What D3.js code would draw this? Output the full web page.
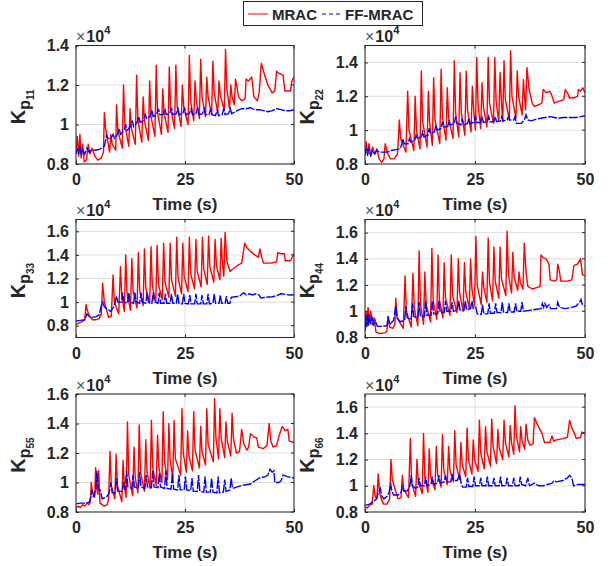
<!DOCTYPE html>
<html>
<head>
<meta charset="utf-8">
<script src="https://cdn.jsdelivr.net/npm/d3@7"></script>
<style>
  body { margin: 0; background: #fff; }
  svg text { font-family: "Liberation Sans", Arial, Helvetica, sans-serif; fill: #262626; }
</style>
</head>
<body>
<div id="chart"></div>
<script>
// values are in units of 1e4, [time (s), gain]
const seriesNames = ["MRAC", "FF-MRAC"];
const timeTicks = [0, 25, 50];

const kp11Mrac = [[0,0.87],[0.3,0.94],[0.6,0.84],[0.9,0.95],[1.2,0.83],[1.5,0.9],[1.9,0.81],[2.4,0.82],[2.8,0.9],[3.2,0.85],[3.7,0.88],[4.3,0.84],[5.0,0.82],[5.8,0.83],[6.3,0.86],
  [6.5,1.06],[6.8,0.98],[7.7,0.86],[8.0,0.95],[8.3,0.9],[9.1,0.87],[9.3,1.10],[9.6,0.97],[10.6,0.88],[10.9,1.20],[11.2,1.0],[12.1,0.89],
  [12.4,1.08],[12.7,0.98],[13.6,0.9],[13.9,1.25],[14.2,1.02],[15.1,0.91],[15.4,1.14],[15.7,1.02],[16.6,0.92],[16.9,1.22],[17.2,1.04],[18.1,0.94],
  [18.4,1.30],[18.7,1.06],[19.6,0.95],[19.9,1.18],[20.2,1.06],[21.1,0.96],[21.4,1.29],[21.7,1.08],[22.6,0.98],[22.9,1.30],[23.2,1.09],[24.1,0.99],
  [24.4,1.20],[24.7,1.09],[25.7,1.0],[26.0,1.35],[26.3,1.12],[27.0,1.02],[27.3,1.22],[27.6,1.12],[28.3,1.03],[28.6,1.33],[28.9,1.14],[29.7,1.04],
  [30.0,1.24],[30.3,1.14],[31.1,1.05],[31.4,1.32],[31.7,1.16],[32.5,1.06],[32.8,1.22],[33.1,1.15],[34.0,1.07],[34.3,1.38],[34.6,1.18],[35.2,1.08],
  [35.5,1.20],[35.8,1.14],[36.3,1.1],[36.6,1.23],[37.3,1.14],[38.0,1.12],[38.8,1.13],[39.0,1.23],[39.6,1.22],[40.3,1.24],[40.8,1.14],[41.6,1.12],
  [42.0,1.16],[42.5,1.31],[43.0,1.27],[44.0,1.2],[45.0,1.16],[45.6,1.17],[46.0,1.27],[46.5,1.26],[47.5,1.25],[47.9,1.17],[49.2,1.17],[49.5,1.22],[50,1.24]];
const kp11FfMrac = [[0,0.85],[0.3,0.88],[0.6,0.85],[0.9,0.89],[1.2,0.85],[1.6,0.87],[2.0,0.85],[2.5,0.88],[3.0,0.86],[3.5,0.87],[4.5,0.87],[5.5,0.875],
  [6.5,0.89],[6.8,0.92],[7.0,0.95],[7.3,0.93],[8.0,0.93],[8.5,0.95],[8.8,0.93],[9.5,0.95],[9.9,0.98],[10.2,0.95],[11.0,0.97],[11.4,1.0],[11.7,0.97],
  [12.5,0.99],[12.9,1.02],[13.2,0.99],[14.0,1.01],[14.4,1.04],[14.7,1.01],[15.5,1.02],[15.9,1.05],[16.2,1.03],[17.0,1.04],[17.4,1.075],[17.7,1.04],
  [18.5,1.05],[18.9,1.08],[19.2,1.05],[20.0,1.05],[20.4,1.08],[20.7,1.05],[21.5,1.055],[21.9,1.085],[22.2,1.05],[23.0,1.055],[23.4,1.08],[23.7,1.05],
  [24.5,1.055],[24.9,1.085],[25.2,1.05],[26.0,1.055],[26.4,1.08],[26.7,1.05],[27.5,1.055],[27.9,1.085],[28.2,1.05],[29.0,1.055],[29.4,1.08],[29.7,1.05],
  [30.5,1.05],[30.9,1.08],[31.2,1.05],[32.0,1.045],[32.4,1.075],[32.7,1.045],[33.5,1.05],[33.9,1.08],[34.2,1.05],[35.0,1.055],[35.4,1.08],[35.7,1.055],
  [37.0,1.07],[38.0,1.08],[39.0,1.08],[40.0,1.085],[41.0,1.075],[42.0,1.075],[43.0,1.07],[44.0,1.065],[45.0,1.07],[46.0,1.08],[47.0,1.075],[48.0,1.07],[49.0,1.07],[50.0,1.075]];

const kp22Mrac = [[0,0.86],[0.3,0.93],[0.6,0.85],[0.9,0.92],[1.3,0.85],[1.7,0.9],[2.2,0.86],[2.7,0.89],[3.2,0.83],[3.8,0.81],[4.3,0.83],[4.6,0.92],[5.0,0.87],[5.8,0.83],[6.6,0.83],[7.4,0.86],
  [7.8,1.06],[8.1,0.95],[9.3,0.87],[9.7,1.23],[10.0,1.0],[11.1,0.88],[11.4,1.2],[11.7,1.0],[12.5,0.89],[12.8,1.35],[13.1,1.05],[14.1,0.9],
  [14.4,1.23],[14.7,1.04],[15.3,0.91],[15.6,1.31],[15.9,1.06],[17.0,0.92],[17.3,1.36],[17.6,1.08],[18.4,0.94],[18.7,1.25],[19.0,1.07],[20.0,0.95],
  [20.3,1.41],[20.6,1.1],[21.3,0.96],[21.6,1.34],[21.9,1.1],[22.7,0.97],[23.0,1.35],[23.3,1.12],[24.1,0.99],[24.4,1.26],[24.7,1.12],[25.1,1.0],
  [25.4,1.43],[25.7,1.15],[26.3,1.01],[26.6,1.28],[26.9,1.14],[27.7,1.02],[28.0,1.43],[28.3,1.16],[29.2,1.04],[29.5,1.43],[29.8,1.17],[30.4,1.05],
  [30.7,1.34],[31.0,1.17],[31.3,1.05],[31.6,1.41],[31.9,1.18],[32.8,1.06],[33.1,1.47],[33.4,1.2],[34.3,1.07],[34.6,1.35],[34.9,1.2],[35.7,1.09],
  [36.0,1.30],[36.3,1.18],[36.5,1.12],[36.8,1.37],[37.3,1.24],[38.0,1.16],[38.5,1.14],[39.5,1.15],[40.2,1.16],[40.5,1.24],[41.2,1.22],[42.0,1.23],
  [42.4,1.21],[43.0,1.16],[44.0,1.17],[45.2,1.18],[45.5,1.24],[46.0,1.22],[46.5,1.19],[47.5,1.19],[48.3,1.2],[48.5,1.24],[49.0,1.23],[49.5,1.25],[50,1.22]];
const kp22FfMrac = [[0,0.85],[0.3,0.89],[0.6,0.86],[0.9,0.89],[1.3,0.85],[1.7,0.88],[2.2,0.86],[2.7,0.88],[3.3,0.87],[4.0,0.87],[5.0,0.87],[6.0,0.88],[7.0,0.885],
  [8.0,0.89],[8.4,0.92],[8.6,0.95],[8.9,0.92],[9.8,0.92],[10.1,0.95],[10.4,0.93],[11.3,0.94],[11.6,0.97],[11.9,0.95],[12.8,0.96],[13.1,0.99],[13.4,0.96],
  [14.3,0.97],[14.6,1.01],[14.9,0.98],[15.8,0.99],[16.1,1.03],[16.4,1.0],[17.3,1.01],[17.6,1.05],[17.9,1.02],[18.8,1.02],[19.1,1.06],[19.4,1.03],
  [20.3,1.04],[20.6,1.08],[20.9,1.04],[21.8,1.03],[22.1,1.07],[22.4,1.03],[23.3,1.04],[23.6,1.07],[23.9,1.04],[24.8,1.045],[25.1,1.085],[25.4,1.045],
  [26.3,1.045],[26.6,1.08],[26.9,1.045],[27.8,1.05],[28.1,1.08],[28.4,1.05],[29.3,1.05],[29.6,1.08],[29.9,1.05],[30.8,1.055],[31.1,1.08],[31.4,1.055],
  [32.3,1.06],[32.6,1.08],[32.9,1.06],[33.8,1.06],[34.1,1.08],[34.4,1.04],[35.5,1.04],[36.2,1.06],[36.6,1.09],[37.0,1.06],[37.8,1.055],[39.0,1.065],
  [40.0,1.07],[41.0,1.075],[42.0,1.08],[43.0,1.075],[44.0,1.07],[45.0,1.075],[46.0,1.075],[47.0,1.075],[48.0,1.075],[49.0,1.08],[50.0,1.085]];

const kp33Mrac = [[0,0.81],[0.5,0.82],[1.2,0.83],[2.0,0.85],[2.3,0.98],[2.6,0.93],[3.1,0.88],[3.8,0.85],[4.5,0.85],[5.3,0.86],[5.8,0.9],[6.1,1.16],[6.5,1.0],[7.5,0.87],[8.1,0.88],
  [8.5,1.23],[8.8,1.0],[9.8,0.9],[10.2,1.30],[10.5,1.05],[11.1,0.92],[11.4,1.40],[11.7,1.08],[12.5,0.93],[12.8,1.37],[13.1,1.09],[14.0,0.95],
  [14.3,1.42],[14.6,1.1],[15.4,0.97],[15.7,1.45],[16.0,1.12],[16.9,0.99],[17.2,1.47],[17.5,1.14],[18.3,1.0],[18.6,1.48],[18.9,1.15],[19.8,1.02],
  [20.1,1.50],[20.4,1.17],[21.3,1.04],[21.6,1.50],[21.9,1.19],[22.8,1.05],[23.1,1.55],[23.4,1.21],[24.2,1.07],[24.5,1.50],[24.8,1.22],[25.7,1.09],
  [26.0,1.55],[26.3,1.24],[27.2,1.11],[27.5,1.53],[27.8,1.26],[28.7,1.13],[29.0,1.55],[29.3,1.28],[30.1,1.15],[30.4,1.56],[30.7,1.3],[31.6,1.17],
  [31.9,1.53],[32.2,1.31],[33.0,1.19],[33.3,1.54],[33.6,1.32],[33.9,1.22],[34.2,1.59],[34.6,1.35],[35.3,1.26],[36.0,1.28],[37.0,1.31],[38.0,1.33],
  [38.7,1.50],[39.2,1.46],[40.0,1.43],[41.0,1.40],[41.8,1.38],[42.2,1.45],[42.6,1.38],[43.0,1.33],[44.5,1.33],[46.0,1.34],[46.3,1.42],[47.0,1.41],
  [47.8,1.41],[48.0,1.35],[49.2,1.35],[50,1.41]];
const kp33FfMrac = [[0,0.84],[1.0,0.845],[2.0,0.85],[2.5,0.90],[3.0,0.88],[3.5,0.87],[4.5,0.875],[5.3,0.89],[5.8,0.97],[6.1,1.0],[6.5,0.96],[7.2,0.94],[8.0,0.92],
  [8.8,0.97],[9.3,1.05],[9.6,1.0],[10.4,1.0],[10.7,1.08],[11.0,1.0],[11.8,0.99],[12.1,1.08],[12.4,1.0],[13.2,0.99],[13.5,1.08],[13.8,1.0],[14.6,0.99],
  [14.9,1.08],[15.2,1.0],[16.0,0.99],[16.3,1.08],[16.6,1.0],[17.4,0.99],[17.7,1.08],[18.0,1.0],[18.8,0.99],[19.1,1.08],[19.4,0.99],[20.2,0.99],
  [20.5,1.07],[20.8,0.99],[21.6,0.99],[21.9,1.07],[22.2,0.99],[23.0,0.99],[23.3,1.07],[23.6,0.99],[24.4,0.985],[24.7,1.07],[25.0,0.99],[25.8,0.985],
  [26.1,1.06],[26.4,0.985],[27.2,0.985],[27.5,1.07],[27.8,0.985],[28.6,0.985],[28.9,1.06],[29.2,0.985],[30.0,0.985],[30.3,1.07],[30.6,0.985],
  [31.4,0.99],[31.7,1.07],[32.0,0.99],[32.8,0.99],[33.1,1.06],[33.4,0.99],[34.2,0.99],[34.5,1.05],[34.8,0.99],[35.3,0.99],[35.6,1.04],[36.5,1.045],
  [37.5,1.05],[38.5,1.08],[39.0,1.06],[39.8,1.07],[40.5,1.06],[41.3,1.07],[42.0,1.06],[42.4,1.035],[43.5,1.04],[45.0,1.045],[46.0,1.055],[47.0,1.07],
  [48.0,1.065],[49.0,1.06],[50.0,1.062]];

const kp44Mrac = [[0,0.87],[0.2,1.0],[0.4,0.9],[0.7,1.03],[1.0,0.92],[1.3,1.0],[1.7,0.9],[2.1,0.95],[2.5,0.84],[3.5,0.83],[4.5,0.835],[5.0,0.85],[5.2,0.96],[5.6,0.88],
  [6.3,0.87],[6.8,0.9],[7.0,1.1],[7.3,0.95],[8.7,0.87],[9.1,1.27],[9.4,1.0],[10.5,0.88],[10.9,1.29],[11.2,1.02],[12.0,0.89],[12.3,1.46],[12.6,1.06],[13.3,0.9],
  [13.6,1.30],[13.9,1.05],[14.9,0.92],[15.2,1.48],[15.5,1.08],[16.3,0.94],[16.6,1.43],[16.9,1.09],[17.7,0.95],[18.0,1.37],[18.3,1.1],[19.3,0.97],
  [19.6,1.43],[19.9,1.12],[20.9,0.99],[21.2,1.40],[21.5,1.14],[22.3,1.0],[22.6,1.37],[22.9,1.15],[23.7,1.02],[24.0,1.40],[24.3,1.17],[24.9,1.04],
  [25.2,1.57],[25.5,1.2],[26.4,1.05],[26.7,1.30],[27.0,1.18],[27.7,1.07],[28.0,1.56],[28.3,1.22],[29.0,1.08],[29.3,1.49],[29.6,1.23],[30.4,1.1],
  [30.7,1.49],[31.0,1.25],[32.0,1.12],[32.3,1.61],[32.6,1.28],[33.3,1.14],[33.6,1.45],[33.9,1.26],[34.7,1.16],[35.0,1.30],[35.3,1.22],[35.9,1.17],
  [36.2,1.52],[36.6,1.3],[37.0,1.19],[38.0,1.17],[39.0,1.18],[39.8,1.19],[40.0,1.43],[40.5,1.41],[41.2,1.40],[41.8,1.36],[42.1,1.24],[43.0,1.23],
  [43.6,1.24],[43.8,1.36],[44.2,1.3],[44.5,1.23],[46.0,1.23],[47.0,1.24],[47.5,1.35],[48.3,1.36],[49.0,1.40],[49.4,1.28],[50,1.27]];
const kp44FfMrac = [[0,0.85],[0.2,0.96],[0.4,0.88],[0.6,0.98],[0.8,0.89],[1.0,0.97],[1.3,0.9],[1.6,0.96],[1.9,0.89],[2.3,0.93],[2.8,0.885],[4.0,0.885],[5.0,0.89],
  [5.3,0.96],[5.6,0.9],[6.5,0.93],[7.0,1.04],[7.3,0.95],[8.0,0.92],[9.0,0.93],[9.3,1.04],[9.6,0.95],[10.5,0.94],[10.8,1.06],[11.1,0.96],[12.0,0.95],
  [12.3,1.07],[12.6,0.96],[13.5,0.96],[13.8,1.08],[14.1,0.97],[15.0,0.97],[15.3,1.08],[15.6,0.98],[16.5,0.98],[16.8,1.08],[17.1,0.99],[18.0,0.99],
  [18.3,1.08],[18.6,1.0],[19.5,1.0],[19.8,1.07],[20.1,1.0],[21.0,1.01],[21.3,1.08],[21.6,1.01],[22.5,1.01],[22.8,1.08],[23.1,1.01],[24.0,1.02],
  [24.3,1.08],[24.6,1.02],[25.2,1.03],[25.5,0.98],[26.4,0.975],[26.7,1.05],[27.0,0.98],[27.9,0.98],[28.2,1.06],[28.5,0.985],[29.4,0.985],[29.7,1.06],
  [30.0,0.99],[30.9,0.99],[31.2,1.07],[31.5,0.99],[32.4,0.99],[32.7,1.06],[33.0,0.995],[33.9,0.995],[34.2,1.06],[34.5,1.0],[35.4,1.0],[35.7,1.07],
  [36.0,1.0],[37.0,1.005],[38.0,1.01],[39.0,1.015],[40.0,1.02],[40.3,1.06],[40.6,1.03],[40.9,1.06],[41.3,1.03],[41.8,1.05],[42.2,1.02],[43.5,1.02],
  [43.8,1.07],[44.2,1.03],[45.5,1.02],[47.0,1.03],[48.0,1.04],[48.8,1.07],[49.1,1.09],[49.4,1.05],[50.0,1.04]];

const kp55Mrac = [[0,0.83],[0.5,0.84],[1.0,0.83],[1.5,0.85],[2.0,0.84],[2.5,0.86],[3.0,0.85],[3.3,0.87],[3.5,1.0],[3.8,0.93],[4.3,0.9],[4.5,1.1],[4.8,0.95],
  [5.0,0.92],[5.2,1.08],[5.5,0.86],[6.5,0.84],[7.2,0.85],[7.5,0.9],[7.8,1.21],[8.1,0.98],[8.9,0.89],[9.2,1.19],[9.5,0.98],[10.5,0.87],[10.8,1.15],
  [11.1,0.97],[11.5,0.9],[11.8,1.41],[12.1,1.05],[13.0,0.91],[13.3,1.24],[13.6,1.03],[14.2,0.93],[14.5,1.39],[14.8,1.07],[15.7,0.94],[16.0,1.29],
  [16.3,1.07],[17.0,0.96],[17.3,1.42],[17.6,1.1],[18.4,0.98],[18.7,1.32],[19.0,1.1],[19.7,1.0],[20.0,1.48],[20.3,1.14],[21.0,1.02],[21.3,1.40],
  [21.6,1.15],[22.2,1.03],[22.5,1.42],[22.8,1.16],[24.0,1.05],[24.3,1.50],[24.6,1.2],[25.3,1.07],[25.6,1.35],[25.9,1.18],[26.7,1.08],[27.0,1.48],
  [27.3,1.22],[28.3,1.1],[28.6,1.38],[28.9,1.21],[29.7,1.12],[30.0,1.50],[30.3,1.26],[31.5,1.14],[31.8,1.57],[32.1,1.3],[32.7,1.16],[33.0,1.50],
  [33.3,1.3],[34.1,1.17],[34.4,1.41],[34.7,1.28],[35.5,1.18],[35.8,1.47],[36.1,1.3],[36.8,1.2],[37.5,1.21],[38.0,1.36],[38.5,1.26],[39.2,1.22],
  [39.6,1.24],[40.0,1.33],[40.8,1.31],[41.5,1.3],[41.8,1.24],[43.0,1.23],[43.8,1.25],[44.3,1.40],[44.7,1.28],[45.2,1.24],[46.0,1.25],[46.6,1.32],
  [47.3,1.38],[48.0,1.35],[48.6,1.36],[48.9,1.28],[50,1.27]];
const kp55FfMrac = [[0,0.855],[1.0,0.86],[2.0,0.86],[3.0,0.865],[3.4,0.9],[3.7,0.95],[4.0,0.9],[4.5,0.95],[4.8,1.08],[5.1,0.96],[5.5,0.95],[6.0,0.89],
  [7.0,0.9],[7.6,0.93],[8.0,1.0],[8.3,0.93],[9.0,0.93],[9.3,1.03],[9.6,0.94],[10.6,0.94],[11.0,1.0],[11.3,0.95],[11.6,1.08],[11.9,0.97],[12.8,0.96],
  [13.1,1.05],[13.4,0.97],[14.3,0.96],[14.6,1.07],[14.9,0.97],[15.8,0.96],[16.1,1.05],[16.4,0.97],[17.3,0.965],[17.6,1.08],[17.9,0.97],[18.8,0.965],
  [19.1,1.06],[19.4,0.97],[20.3,0.96],[20.6,1.08],[20.9,0.96],[21.8,0.955],[22.1,1.06],[22.4,0.955],[23.3,0.95],[23.6,1.05],[23.9,0.95],[24.8,0.95],
  [25.1,1.04],[25.4,0.95],[26.3,0.945],[26.6,1.03],[26.9,0.94],[27.8,0.94],[28.1,1.05],[28.4,0.94],[29.3,0.935],[29.6,1.04],[29.9,0.935],[30.8,0.935],
  [31.1,1.03],[31.4,0.935],[32.3,0.93],[32.6,1.04],[32.9,0.93],[33.8,0.935],[34.1,1.02],[34.4,0.94],[35.3,0.95],[35.6,1.03],[35.9,0.96],[37.0,0.97],
  [38.0,0.98],[39.0,0.985],[40.0,0.99],[41.0,1.01],[42.0,1.03],[43.5,1.04],[44.0,1.05],[44.5,1.09],[45.0,1.07],[45.4,1.08],[45.6,1.0],[46.5,1.0],
  [47.0,1.01],[47.5,1.05],[48.5,1.04],[49.2,1.035],[50.0,1.03]];

const kp66Mrac = [[0,0.84],[0.5,0.83],[1.0,0.85],[1.6,0.86],[2.0,1.0],[2.3,0.92],[2.7,0.9],[3.0,1.09],[3.3,0.95],[3.7,0.9],[4.2,0.86],[5.0,0.86],[5.6,0.9],
  [5.9,1.2],[6.2,1.05],[6.6,1.0],[7.5,0.9],[8.2,0.91],[8.5,1.08],[8.8,0.97],[9.9,0.91],[10.3,1.36],[10.6,1.02],[11.5,0.92],[11.8,1.2],[12.1,1.03],
  [13.0,0.94],[13.3,1.40],[13.6,1.07],[14.3,0.95],[14.6,1.28],[14.9,1.07],[15.9,0.97],[16.2,1.30],[16.5,1.09],[17.3,0.99],[17.6,1.39],[17.9,1.12],
  [18.7,1.01],[19.0,1.30],[19.3,1.12],[20.1,1.03],[20.4,1.42],[20.7,1.16],[21.5,1.05],[21.8,1.33],[22.1,1.16],[22.9,1.07],[23.2,1.44],[23.5,1.2],
  [24.3,1.09],[24.6,1.35],[24.9,1.2],[25.7,1.11],[26.0,1.50],[26.3,1.25],[27.1,1.13],[27.4,1.45],[27.7,1.26],[28.5,1.15],[28.8,1.51],[29.1,1.3],
  [29.9,1.17],[30.2,1.43],[30.5,1.29],[31.3,1.2],[31.6,1.50],[31.9,1.33],[32.7,1.22],[33.0,1.46],[33.3,1.33],[33.8,1.24],[34.1,1.61],[34.4,1.38],
  [35.1,1.26],[35.4,1.45],[35.7,1.34],[36.3,1.28],[36.6,1.47],[37.0,1.35],[37.5,1.31],[38.2,1.32],[38.5,1.52],[39.0,1.48],[39.6,1.44],[40.2,1.40],
  [40.8,1.33],[42.0,1.33],[42.5,1.38],[42.9,1.34],[43.5,1.35],[45.0,1.36],[46.0,1.37],[46.5,1.50],[47.0,1.44],[47.6,1.40],[48.0,1.36],[49.0,1.37],
  [49.3,1.41],[50,1.40]];
const kp66FfMrac = [[0,0.85],[1.0,0.86],[2.0,0.88],[2.6,0.9],[3.0,0.94],[3.5,0.98],[3.8,0.92],[4.3,0.9],[5.0,0.92],[5.5,0.95],[5.8,1.02],[6.1,0.96],
  [6.5,0.93],[7.5,0.93],[8.2,0.95],[8.5,1.0],[8.8,0.96],[9.6,0.96],[10.2,1.0],[10.5,1.08],[10.8,1.0],[11.5,0.98],[12.0,0.99],[12.3,1.06],[12.6,1.0],
  [13.5,1.0],[13.8,1.07],[14.1,1.0],[15.0,1.01],[15.3,1.07],[15.6,1.01],[16.5,1.02],[16.8,1.08],[17.1,1.02],[18.0,1.03],[18.3,1.08],[18.6,1.03],
  [19.5,1.03],[19.8,1.09],[20.1,1.04],[21.0,1.04],[21.5,1.09],[21.9,1.01],[22.2,0.99],[23.0,0.99],[23.3,1.06],[23.6,0.995],[24.5,0.995],[24.8,1.07],
  [25.1,1.0],[26.0,1.0],[26.3,1.06],[26.6,1.0],[27.5,1.0],[27.8,1.07],[28.1,1.0],[29.0,1.0],[29.3,1.06],[29.6,1.0],[30.5,1.0],[30.8,1.07],[31.1,1.0],
  [32.0,1.0],[32.3,1.06],[32.6,1.0],[33.5,1.0],[33.8,1.06],[34.1,1.0],[35.0,1.0],[35.3,1.07],[35.6,1.01],[36.5,1.0],[37.0,1.06],[37.4,1.0],[38.5,1.02],
  [39.5,1.0],[40.5,1.0],[41.5,1.01],[42.5,1.02],[43.0,1.04],[43.5,1.03],[45.0,1.04],[46.0,1.06],[46.5,1.08],[47.0,1.06],[47.4,1.0],[48.5,1.01],[50.0,1.01]];

// subplot settings (axis limits)
const panels = [
  { sub: "11", mrac: kp11Mrac, ff: kp11FfMrac, yDomain: [0.8, 1.4], yTicks: [0.8, 1, 1.2, 1.4], col: 0, row: 0 },
  { sub: "22", mrac: kp22Mrac, ff: kp22FfMrac, yDomain: [0.8, 1.5], yTicks: [0.8, 1, 1.2, 1.4], col: 1, row: 0 },
  { sub: "33", mrac: kp33Mrac, ff: kp33FfMrac, yDomain: [0.7, 1.7], yTicks: [0.8, 1, 1.2, 1.4, 1.6], col: 0, row: 1 },
  { sub: "44", mrac: kp44Mrac, ff: kp44FfMrac, yDomain: [0.8, 1.7], yTicks: [0.8, 1, 1.2, 1.4, 1.6], col: 1, row: 1 },
  { sub: "55", mrac: kp55Mrac, ff: kp55FfMrac, yDomain: [0.8, 1.6], yTicks: [0.8, 1, 1.2, 1.4, 1.6], col: 0, row: 2 },
  { sub: "66", mrac: kp66Mrac, ff: kp66FfMrac, yDomain: [0.8, 1.7], yTicks: [0.8, 1, 1.2, 1.4, 1.6], col: 1, row: 2 }
];

const width = 610, height = 566;
const colX = [[76, 294], [365, 585]];
const rowY = [[45.5, 164], [219.5, 337.5], [394, 512]];
const ink = "#262626";
const red = "#ff0000", blue = "#0000ff";

const svg = d3.select("#chart").append("svg")
  .attr("width", width)
  .attr("height", height);

panels.forEach((p, i) => {
  const [x0, x1] = colX[p.col];
  const [y0, y1] = rowY[p.row];
  const x = d3.scaleLinear().domain([0, 50]).range([x0, x1]);
  const y = d3.scaleLinear().domain(p.yDomain).range([y1, y0]);

  const g = svg.append("g");

  // grid
  g.append("g").selectAll("line").data(p.yTicks).join("line")
    .attr("x1", x0).attr("x2", x1)
    .attr("y1", d => y(d)).attr("y2", d => y(d))
    .attr("stroke", "#dedede").attr("stroke-width", 1);
  g.append("g").selectAll("line").data(timeTicks).join("line")
    .attr("x1", d => x(d)).attr("x2", d => x(d))
    .attr("y1", y0).attr("y2", y1)
    .attr("stroke", "#dedede").attr("stroke-width", 1);

  // lines
  g.append("clipPath").attr("id", "clip" + i)
    .append("rect").attr("x", x0).attr("y", y0).attr("width", x1 - x0).attr("height", y1 - y0);
  const line = d3.line().x(d => x(d[0])).y(d => y(d[1]));
  const lines = g.append("g").attr("clip-path", `url(#clip${i})`);
  lines.append("path").datum(p.mrac)
    .attr("d", line).attr("fill", "none")
    .attr("stroke", red).attr("stroke-width", 1.4).attr("stroke-linejoin", "round");
  lines.append("path").datum(p.ff)
    .attr("d", line).attr("fill", "none")
    .attr("stroke", blue).attr("stroke-width", 1.4).attr("stroke-dasharray", "9,1.5");

  // axes
  const xAxis = d3.axisBottom(x).tickValues(timeTicks).tickSizeInner(-3).tickSizeOuter(0).tickPadding(7);
  const yAxis = d3.axisLeft(y).tickValues(p.yTicks).tickSizeInner(-3).tickSizeOuter(0).tickPadding(7)
    .tickFormat(d => String(+d.toFixed(1)));
  const xa = g.append("g").attr("transform", `translate(0,${y1})`).call(xAxis);
  const ya = g.append("g").attr("transform", `translate(${x0},0)`).call(yAxis);
  [xa, ya].forEach(a => {
    a.select(".domain").remove();
    a.selectAll("line").attr("stroke", ink);
    a.selectAll("text").attr("fill", ink).attr("font-size", 16).attr("font-weight", "bold")
      .attr("font-family", "'Liberation Sans', Arial, sans-serif");
  });
  xa.selectAll("text").attr("dy", "0.9em");

  // top/right ticks and box
  g.append("g").selectAll("line").data(timeTicks).join("line")
    .attr("x1", d => x(d)).attr("x2", d => x(d)).attr("y1", y0).attr("y2", y0 + 3)
    .attr("stroke", ink);
  g.append("g").selectAll("line").data(p.yTicks).join("line")
    .attr("x1", x1).attr("x2", x1 - 3).attr("y1", d => y(d)).attr("y2", d => y(d))
    .attr("stroke", ink);
  g.append("rect").attr("x", x0).attr("y", y0).attr("width", x1 - x0).attr("height", y1 - y0)
    .attr("fill", "none").attr("stroke", ink).attr("stroke-width", 1);

  // exponent label
  const ex = g.append("text").attr("x", x0).attr("y", y0 - 3.5).attr("font-size", 16);
  ex.append("tspan").text("×").attr("font-weight", "normal").attr("fill", "#555");
  ex.append("tspan").text("10").attr("font-weight", "bold").attr("dx", 1);
  ex.append("tspan").text("4").attr("font-size", 11).attr("font-weight", "bold").attr("dy", -8);

  // x label
  g.append("text").attr("x", (x0 + x1) / 2).attr("y", y1 + 46)
    .attr("text-anchor", "middle").attr("font-size", 17).attr("font-weight", "bold")
    .text("Time (s)");

  // y label K_{p_{ii}}
  const yl = g.append("text")
    .attr("transform", `translate(${x0 - 51},${(y0 + y1) / 2 + 2}) rotate(-90)`)
    .attr("text-anchor", "middle").attr("font-weight", "bold");
  yl.append("tspan").text("K").attr("font-size", 20);
  yl.append("tspan").text("p").attr("font-size", 16).attr("dy", 5);
  yl.append("tspan").text(p.sub).attr("font-size", 10).attr("dy", 4);
});

// legend
const leg = svg.append("g");
leg.append("rect").attr("x", 243.5).attr("y", 1.5).attr("width", 179).attr("height", 24)
  .attr("fill", "#fff").attr("stroke", ink).attr("stroke-width", 1);
const legendItems = [
  { name: seriesNames[0], color: red, dash: null, lx: 248, tx: 272 },
  { name: seriesNames[1], color: blue, dash: "4,3", lx: 322, tx: 345 }
];
legendItems.forEach(it => {
  leg.append("line").attr("x1", it.lx).attr("x2", it.lx + 20).attr("y1", 14).attr("y2", 14)
    .attr("stroke", it.color).attr("stroke-width", 1).attr("stroke-dasharray", it.dash);
  leg.append("text").attr("x", it.tx).attr("y", 19.5)
    .attr("font-size", 15).attr("font-weight", "bold").text(it.name);
});
</script>
</body>
</html>
